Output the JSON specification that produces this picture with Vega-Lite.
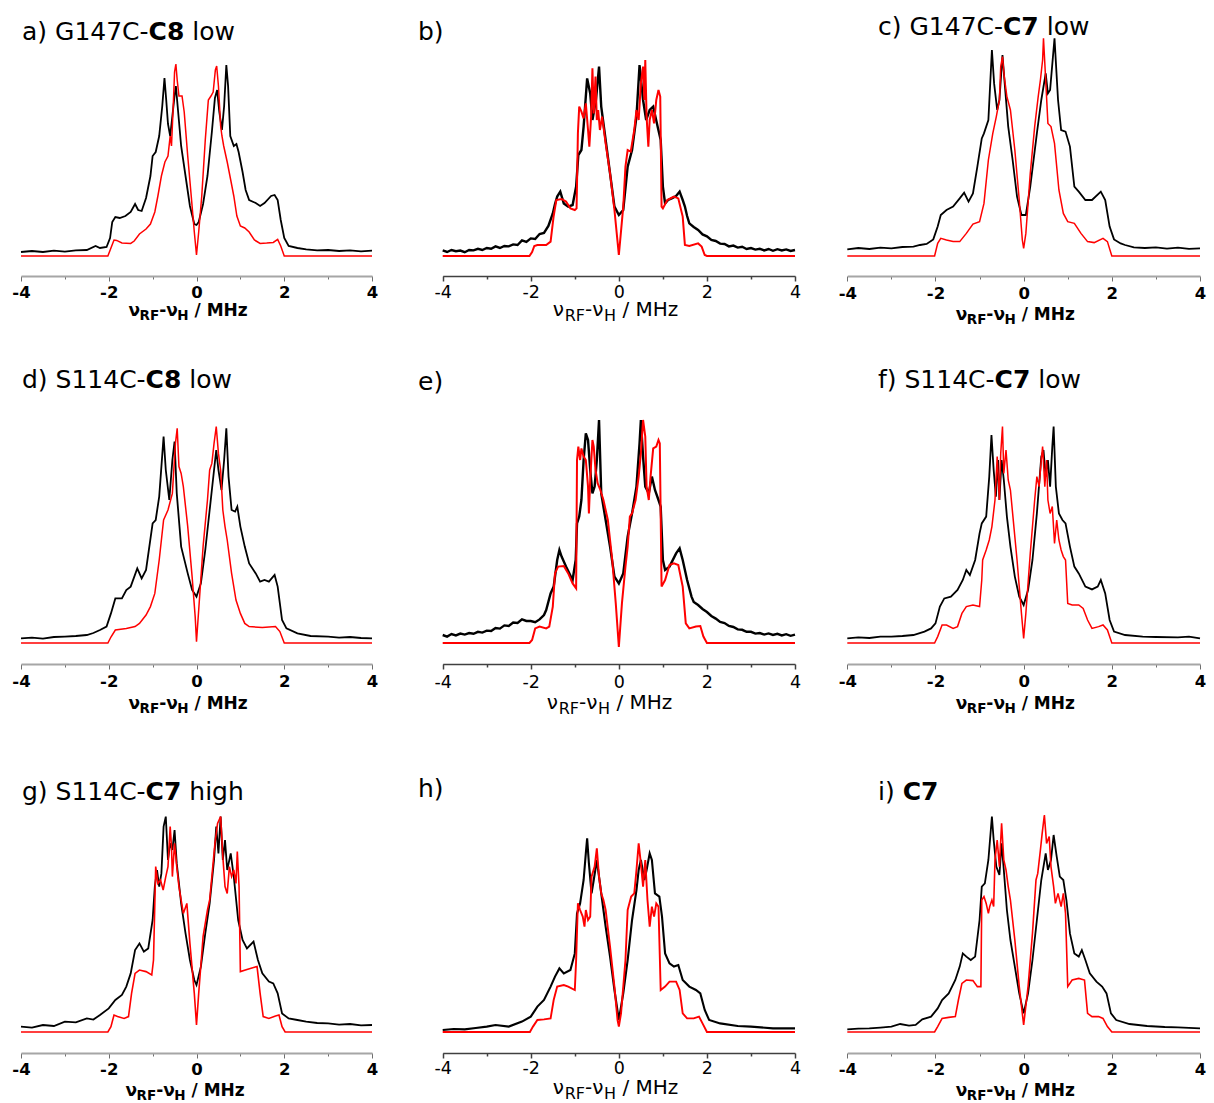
{
  "$schema": "https://vega.github.io/schema/vega-lite/v6.json",
  "padding": 0,
  "background": "#ffffff",
  "config": {
    "view": {"stroke": null},
    "style": {
      "ttl": {"font": "DejaVu Sans", "fontSize": 25, "align": "left", "baseline": "alphabetic", "fill": "#000000"},
      "ttlb": {"font": "DejaVu Sans", "fontSize": 25, "fontWeight": "bold", "align": "left", "baseline": "alphabetic", "fill": "#000000"},
      "xm": {"font": "DejaVu Sans", "fontSize": 17, "fontWeight": "bold", "align": "left", "baseline": "alphabetic", "fill": "#000000"},
      "xs": {"font": "DejaVu Sans", "fontSize": 13.5, "fontWeight": "bold", "align": "left", "baseline": "alphabetic", "fill": "#000000", "dy": 4},
      "rm": {"font": "DejaVu Sans", "fontSize": 20, "align": "left", "baseline": "alphabetic", "fill": "#000000"},
      "rs": {"font": "DejaVu Sans", "fontSize": 16, "align": "left", "baseline": "alphabetic", "fill": "#000000", "dy": 5}
    }
  },
  "datasets": {
    "a_exp": [{"x":-4,"y":0.02},{"x":-3.75,"y":0.025},{"x":-3.5,"y":0.02},{"x":-3.25,"y":0.027},{"x":-3,"y":0.022},{"x":-2.75,"y":0.028},{"x":-2.5,"y":0.03},{"x":-2.3,"y":0.05},{"x":-2.2,"y":0.04},{"x":-2.05,"y":0.045},{"x":-1.97,"y":0.09},{"x":-1.92,"y":0.17},{"x":-1.85,"y":0.195},{"x":-1.75,"y":0.19},{"x":-1.62,"y":0.2},{"x":-1.5,"y":0.22},{"x":-1.4,"y":0.26},{"x":-1.33,"y":0.23},{"x":-1.25,"y":0.225},{"x":-1.15,"y":0.29},{"x":-1.05,"y":0.4},{"x":-1.0,"y":0.5},{"x":-0.93,"y":0.52},{"x":-0.85,"y":0.6},{"x":-0.78,"y":0.75},{"x":-0.73,"y":0.89},{"x":-0.69,"y":0.78},{"x":-0.65,"y":0.66},{"x":-0.6,"y":0.6},{"x":-0.55,"y":0.7},{"x":-0.5,"y":0.8},{"x":-0.47,"y":0.85},{"x":-0.43,"y":0.75},{"x":-0.35,"y":0.55},{"x":-0.25,"y":0.4},{"x":-0.15,"y":0.25},{"x":-0.05,"y":0.16},{"x":0,"y":0.155},{"x":0.05,"y":0.17},{"x":0.15,"y":0.26},{"x":0.25,"y":0.4},{"x":0.35,"y":0.62},{"x":0.42,"y":0.79},{"x":0.47,"y":0.83},{"x":0.52,"y":0.72},{"x":0.58,"y":0.63},{"x":0.63,"y":0.75},{"x":0.68,"y":0.955},{"x":0.72,"y":0.85},{"x":0.77,"y":0.6},{"x":0.85,"y":0.55},{"x":0.91,"y":0.56},{"x":0.96,"y":0.52},{"x":1.05,"y":0.42},{"x":1.12,"y":0.33},{"x":1.2,"y":0.28},{"x":1.35,"y":0.265},{"x":1.45,"y":0.25},{"x":1.55,"y":0.265},{"x":1.7,"y":0.3},{"x":1.78,"y":0.305},{"x":1.85,"y":0.28},{"x":1.92,"y":0.18},{"x":2.0,"y":0.09},{"x":2.1,"y":0.05},{"x":2.3,"y":0.04},{"x":2.5,"y":0.033},{"x":2.75,"y":0.028},{"x":3,"y":0.03},{"x":3.25,"y":0.025},{"x":3.5,"y":0.028},{"x":3.75,"y":0.023},{"x":4,"y":0.027}],
    "a_sim": [{"x":-4,"y":0},{"x":-2.02,"y":0},{"x":-1.95,"y":0.04},{"x":-1.88,"y":0.08},{"x":-1.82,"y":0.078},{"x":-1.7,"y":0.065},{"x":-1.5,"y":0.063},{"x":-1.42,"y":0.075},{"x":-1.3,"y":0.11},{"x":-1.15,"y":0.135},{"x":-1.05,"y":0.16},{"x":-0.95,"y":0.22},{"x":-0.88,"y":0.3},{"x":-0.8,"y":0.4},{"x":-0.72,"y":0.47},{"x":-0.65,"y":0.5},{"x":-0.6,"y":0.6},{"x":-0.57,"y":0.55},{"x":-0.53,"y":0.75},{"x":-0.5,"y":0.92},{"x":-0.47,"y":0.96},{"x":-0.44,"y":0.88},{"x":-0.4,"y":0.8},{"x":-0.33,"y":0.8},{"x":-0.28,"y":0.72},{"x":-0.2,"y":0.5},{"x":-0.12,"y":0.3},{"x":-0.05,"y":0.12},{"x":0,"y":0.005},{"x":0.05,"y":0.12},{"x":0.12,"y":0.3},{"x":0.2,"y":0.58},{"x":0.27,"y":0.78},{"x":0.33,"y":0.8},{"x":0.38,"y":0.82},{"x":0.43,"y":0.93},{"x":0.46,"y":0.95},{"x":0.5,"y":0.85},{"x":0.55,"y":0.65},{"x":0.58,"y":0.6},{"x":0.62,"y":0.55},{"x":0.7,"y":0.47},{"x":0.78,"y":0.38},{"x":0.85,"y":0.3},{"x":0.92,"y":0.2},{"x":1.0,"y":0.15},{"x":1.1,"y":0.14},{"x":1.2,"y":0.12},{"x":1.32,"y":0.08},{"x":1.45,"y":0.063},{"x":1.6,"y":0.065},{"x":1.75,"y":0.068},{"x":1.85,"y":0.083},{"x":1.92,"y":0.05},{"x":2.0,"y":0},{"x":4,"y":0}],
    "b_exp": [{"x":-4,"y":0.028},{"x":-3.9,"y":0.02},{"x":-3.8,"y":0.03},{"x":-3.7,"y":0.024},{"x":-3.6,"y":0.027},{"x":-3.5,"y":0.019},{"x":-3.4,"y":0.03},{"x":-3.3,"y":0.028},{"x":-3.2,"y":0.036},{"x":-3.1,"y":0.03},{"x":-3.0,"y":0.04},{"x":-2.9,"y":0.036},{"x":-2.8,"y":0.048},{"x":-2.7,"y":0.04},{"x":-2.6,"y":0.05},{"x":-2.5,"y":0.048},{"x":-2.4,"y":0.058},{"x":-2.3,"y":0.055},{"x":-2.2,"y":0.078},{"x":-2.1,"y":0.07},{"x":-2.0,"y":0.088},{"x":-1.9,"y":0.085},{"x":-1.8,"y":0.11},{"x":-1.7,"y":0.115},{"x":-1.6,"y":0.15},{"x":-1.5,"y":0.213},{"x":-1.45,"y":0.26},{"x":-1.4,"y":0.297},{"x":-1.33,"y":0.322},{"x":-1.25,"y":0.263},{"x":-1.15,"y":0.247},{"x":-1.05,"y":0.255},{"x":-0.97,"y":0.347},{"x":-0.92,"y":0.505},{"x":-0.85,"y":0.53},{"x":-0.8,"y":0.647},{"x":-0.72,"y":0.888},{"x":-0.65,"y":0.813},{"x":-0.6,"y":0.68},{"x":-0.52,"y":0.78},{"x":-0.45,"y":0.947},{"x":-0.4,"y":0.747},{"x":-0.3,"y":0.58},{"x":-0.2,"y":0.413},{"x":-0.1,"y":0.247},{"x":0,"y":0.205},{"x":0.1,"y":0.23},{"x":0.2,"y":0.447},{"x":0.3,"y":0.53},{"x":0.4,"y":0.697},{"x":0.47,"y":0.955},{"x":0.55,"y":0.78},{"x":0.62,"y":0.68},{"x":0.7,"y":0.73},{"x":0.78,"y":0.747},{"x":0.88,"y":0.647},{"x":0.95,"y":0.58},{"x":1.0,"y":0.347},{"x":1.05,"y":0.263},{"x":1.12,"y":0.28},{"x":1.2,"y":0.288},{"x":1.3,"y":0.3},{"x":1.38,"y":0.322},{"x":1.45,"y":0.28},{"x":1.5,"y":0.247},{"x":1.55,"y":0.2},{"x":1.6,"y":0.163},{"x":1.7,"y":0.145},{"x":1.8,"y":0.13},{"x":1.9,"y":0.108},{"x":2.0,"y":0.098},{"x":2.1,"y":0.08},{"x":2.2,"y":0.075},{"x":2.3,"y":0.062},{"x":2.4,"y":0.06},{"x":2.5,"y":0.048},{"x":2.6,"y":0.052},{"x":2.7,"y":0.042},{"x":2.8,"y":0.046},{"x":2.9,"y":0.035},{"x":3.0,"y":0.04},{"x":3.1,"y":0.032},{"x":3.2,"y":0.036},{"x":3.3,"y":0.028},{"x":3.4,"y":0.035},{"x":3.5,"y":0.026},{"x":3.6,"y":0.034},{"x":3.7,"y":0.028},{"x":3.8,"y":0.033},{"x":3.9,"y":0.025},{"x":4.0,"y":0.03}],
    "b_sim": [{"x":-4,"y":0},{"x":-2.03,"y":0},{"x":-1.97,"y":0.02},{"x":-1.92,"y":0.05},{"x":-1.85,"y":0.055},{"x":-1.65,"y":0.055},{"x":-1.55,"y":0.072},{"x":-1.48,"y":0.2},{"x":-1.42,"y":0.28},{"x":-1.3,"y":0.285},{"x":-1.2,"y":0.272},{"x":-1.1,"y":0.238},{"x":-1.0,"y":0.23},{"x":-0.96,"y":0.238},{"x":-0.93,"y":0.613},{"x":-0.9,"y":0.747},{"x":-0.85,"y":0.722},{"x":-0.8,"y":0.688},{"x":-0.75,"y":0.763},{"x":-0.7,"y":0.63},{"x":-0.67,"y":0.547},{"x":-0.63,"y":0.697},{"x":-0.6,"y":0.938},{"x":-0.57,"y":0.713},{"x":-0.53,"y":0.897},{"x":-0.5,"y":0.68},{"x":-0.47,"y":0.73},{"x":-0.43,"y":0.63},{"x":-0.38,"y":0.697},{"x":-0.3,"y":0.563},{"x":-0.2,"y":0.413},{"x":-0.1,"y":0.23},{"x":0,"y":0.005},{"x":0.1,"y":0.247},{"x":0.15,"y":0.447},{"x":0.2,"y":0.53},{"x":0.27,"y":0.522},{"x":0.35,"y":0.63},{"x":0.4,"y":0.73},{"x":0.45,"y":0.68},{"x":0.5,"y":0.863},{"x":0.55,"y":0.947},{"x":0.58,"y":0.78},{"x":0.6,"y":0.98},{"x":0.63,"y":0.697},{"x":0.67,"y":0.547},{"x":0.7,"y":0.68},{"x":0.75,"y":0.73},{"x":0.8,"y":0.663},{"x":0.85,"y":0.78},{"x":0.9,"y":0.83},{"x":0.94,"y":0.797},{"x":0.97,"y":0.247},{"x":1.0,"y":0.238},{"x":1.1,"y":0.28},{"x":1.25,"y":0.297},{"x":1.35,"y":0.288},{"x":1.45,"y":0.197},{"x":1.5,"y":0.055},{"x":1.6,"y":0.05},{"x":1.8,"y":0.063},{"x":1.88,"y":0.047},{"x":1.95,"y":0.005},{"x":2.0,"y":0},{"x":4,"y":0}],
    "c_exp": [{"x":-4,"y":0.033},{"x":-3.75,"y":0.04},{"x":-3.5,"y":0.035},{"x":-3.25,"y":0.042},{"x":-3,"y":0.038},{"x":-2.75,"y":0.045},{"x":-2.5,"y":0.047},{"x":-2.35,"y":0.055},{"x":-2.2,"y":0.06},{"x":-2.05,"y":0.083},{"x":-1.95,"y":0.147},{"x":-1.88,"y":0.205},{"x":-1.75,"y":0.23},{"x":-1.6,"y":0.247},{"x":-1.45,"y":0.288},{"x":-1.35,"y":0.317},{"x":-1.25,"y":0.272},{"x":-1.15,"y":0.313},{"x":-1.05,"y":0.447},{"x":-0.95,"y":0.588},{"x":-0.9,"y":0.613},{"x":-0.8,"y":0.68},{"x":-0.72,"y":1.03},{"x":-0.67,"y":0.863},{"x":-0.6,"y":0.73},{"x":-0.55,"y":0.78},{"x":-0.48,"y":1.005},{"x":-0.43,"y":0.863},{"x":-0.35,"y":0.647},{"x":-0.25,"y":0.48},{"x":-0.15,"y":0.297},{"x":-0.05,"y":0.205},{"x":0.05,"y":0.205},{"x":0.15,"y":0.347},{"x":0.3,"y":0.613},{"x":0.4,"y":0.78},{"x":0.5,"y":0.913},{"x":0.55,"y":0.813},{"x":0.6,"y":0.83},{"x":0.7,"y":1.088},{"x":0.78,"y":0.78},{"x":0.85,"y":0.63},{"x":0.95,"y":0.622},{"x":1.05,"y":0.547},{"x":1.15,"y":0.347},{"x":1.25,"y":0.322},{"x":1.4,"y":0.28},{"x":1.55,"y":0.28},{"x":1.75,"y":0.322},{"x":1.85,"y":0.28},{"x":1.95,"y":0.147},{"x":2.05,"y":0.083},{"x":2.2,"y":0.063},{"x":2.3,"y":0.055},{"x":2.5,"y":0.043},{"x":2.75,"y":0.04},{"x":3,"y":0.043},{"x":3.25,"y":0.037},{"x":3.5,"y":0.042},{"x":3.75,"y":0.036},{"x":4,"y":0.038}],
    "c_sim": [{"x":-4,"y":0},{"x":-2.02,"y":0},{"x":-1.95,"y":0.063},{"x":-1.88,"y":0.088},{"x":-1.75,"y":0.08},{"x":-1.6,"y":0.072},{"x":-1.45,"y":0.072},{"x":-1.3,"y":0.113},{"x":-1.15,"y":0.16},{"x":-1.0,"y":0.172},{"x":-0.9,"y":0.263},{"x":-0.8,"y":0.48},{"x":-0.7,"y":0.613},{"x":-0.62,"y":0.697},{"x":-0.55,"y":0.78},{"x":-0.52,"y":0.947},{"x":-0.48,"y":0.997},{"x":-0.44,"y":0.897},{"x":-0.38,"y":0.797},{"x":-0.3,"y":0.73},{"x":-0.2,"y":0.53},{"x":-0.1,"y":0.28},{"x":-0.03,"y":0.08},{"x":0,"y":0.038},{"x":0.05,"y":0.113},{"x":0.15,"y":0.413},{"x":0.25,"y":0.647},{"x":0.33,"y":0.797},{"x":0.38,"y":0.88},{"x":0.43,"y":0.98},{"x":0.45,"y":1.088},{"x":0.5,"y":0.88},{"x":0.55,"y":0.663},{"x":0.62,"y":0.647},{"x":0.7,"y":0.563},{"x":0.8,"y":0.33},{"x":0.9,"y":0.213},{"x":1.0,"y":0.172},{"x":1.15,"y":0.163},{"x":1.3,"y":0.113},{"x":1.45,"y":0.072},{"x":1.6,"y":0.067},{"x":1.8,"y":0.088},{"x":1.9,"y":0.072},{"x":2.0,"y":0},{"x":4,"y":0}],
    "d_exp": [{"x":-4,"y":0.023},{"x":-3.75,"y":0.027},{"x":-3.5,"y":0.022},{"x":-3.25,"y":0.03},{"x":-3,"y":0.032},{"x":-2.75,"y":0.035},{"x":-2.5,"y":0.04},{"x":-2.35,"y":0.05},{"x":-2.2,"y":0.065},{"x":-2.05,"y":0.082},{"x":-1.95,"y":0.148},{"x":-1.85,"y":0.223},{"x":-1.7,"y":0.223},{"x":-1.6,"y":0.265},{"x":-1.5,"y":0.282},{"x":-1.35,"y":0.373},{"x":-1.25,"y":0.323},{"x":-1.15,"y":0.365},{"x":-1.0,"y":0.598},{"x":-0.93,"y":0.615},{"x":-0.85,"y":0.732},{"x":-0.75,"y":1.032},{"x":-0.7,"y":0.865},{"x":-0.62,"y":0.715},{"x":-0.55,"y":0.915},{"x":-0.5,"y":1.007},{"x":-0.45,"y":0.748},{"x":-0.35,"y":0.482},{"x":-0.2,"y":0.348},{"x":-0.1,"y":0.265},{"x":0,"y":0.232},{"x":0.1,"y":0.298},{"x":0.2,"y":0.465},{"x":0.3,"y":0.665},{"x":0.4,"y":0.865},{"x":0.45,"y":0.965},{"x":0.5,"y":0.865},{"x":0.57,"y":0.765},{"x":0.63,"y":0.915},{"x":0.68,"y":1.073},{"x":0.73,"y":0.832},{"x":0.8,"y":0.665},{"x":0.88,"y":0.657},{"x":0.93,"y":0.682},{"x":1.0,"y":0.582},{"x":1.1,"y":0.482},{"x":1.2,"y":0.398},{"x":1.35,"y":0.348},{"x":1.45,"y":0.307},{"x":1.55,"y":0.315},{"x":1.65,"y":0.307},{"x":1.78,"y":0.34},{"x":1.85,"y":0.282},{"x":1.95,"y":0.115},{"x":2.05,"y":0.073},{"x":2.3,"y":0.048},{"x":2.6,"y":0.035},{"x":3,"y":0.032},{"x":3.25,"y":0.027},{"x":3.5,"y":0.03},{"x":3.75,"y":0.025},{"x":4,"y":0.023}],
    "d_sim": [{"x":-4,"y":0},{"x":-2.02,"y":0},{"x":-1.95,"y":0.03},{"x":-1.85,"y":0.065},{"x":-1.6,"y":0.073},{"x":-1.4,"y":0.082},{"x":-1.3,"y":0.098},{"x":-1.15,"y":0.14},{"x":-1.05,"y":0.182},{"x":-0.95,"y":0.248},{"x":-0.85,"y":0.415},{"x":-0.75,"y":0.615},{"x":-0.65,"y":0.665},{"x":-0.55,"y":0.748},{"x":-0.48,"y":0.998},{"x":-0.44,"y":1.073},{"x":-0.4,"y":0.882},{"x":-0.35,"y":0.848},{"x":-0.3,"y":0.782},{"x":-0.2,"y":0.582},{"x":-0.1,"y":0.332},{"x":-0.03,"y":0.132},{"x":0,"y":0.007},{"x":0.05,"y":0.165},{"x":0.15,"y":0.482},{"x":0.25,"y":0.715},{"x":0.3,"y":0.865},{"x":0.35,"y":0.898},{"x":0.4,"y":0.998},{"x":0.45,"y":1.082},{"x":0.5,"y":0.948},{"x":0.55,"y":0.865},{"x":0.6,"y":0.665},{"x":0.65,"y":0.582},{"x":0.7,"y":0.515},{"x":0.8,"y":0.348},{"x":0.9,"y":0.215},{"x":1.0,"y":0.148},{"x":1.1,"y":0.098},{"x":1.2,"y":0.082},{"x":1.5,"y":0.078},{"x":1.8,"y":0.082},{"x":1.9,"y":0.057},{"x":2.0,"y":0},{"x":4,"y":0}],
    "e_exp": [{"x":-4,"y":0.04},{"x":-3.9,"y":0.032},{"x":-3.8,"y":0.045},{"x":-3.7,"y":0.038},{"x":-3.6,"y":0.047},{"x":-3.5,"y":0.042},{"x":-3.4,"y":0.05},{"x":-3.3,"y":0.046},{"x":-3.2,"y":0.056},{"x":-3.1,"y":0.052},{"x":-3.0,"y":0.062},{"x":-2.9,"y":0.06},{"x":-2.8,"y":0.075},{"x":-2.7,"y":0.072},{"x":-2.6,"y":0.088},{"x":-2.5,"y":0.085},{"x":-2.4,"y":0.102},{"x":-2.3,"y":0.1},{"x":-2.2,"y":0.118},{"x":-2.1,"y":0.11},{"x":-2.0,"y":0.11},{"x":-1.9,"y":0.104},{"x":-1.8,"y":0.118},{"x":-1.7,"y":0.14},{"x":-1.65,"y":0.165},{"x":-1.55,"y":0.248},{"x":-1.48,"y":0.282},{"x":-1.4,"y":0.415},{"x":-1.35,"y":0.465},{"x":-1.3,"y":0.432},{"x":-1.2,"y":0.382},{"x":-1.05,"y":0.315},{"x":-0.98,"y":0.415},{"x":-0.95,"y":0.598},{"x":-0.9,"y":0.632},{"x":-0.85,"y":0.715},{"x":-0.8,"y":0.915},{"x":-0.75,"y":1.048},{"x":-0.7,"y":1.015},{"x":-0.65,"y":0.865},{"x":-0.6,"y":0.748},{"x":-0.55,"y":0.782},{"x":-0.5,"y":0.915},{"x":-0.45,"y":1.115},{"x":-0.4,"y":0.748},{"x":-0.3,"y":0.615},{"x":-0.2,"y":0.482},{"x":-0.1,"y":0.332},{"x":0,"y":0.298},{"x":0.1,"y":0.348},{"x":0.2,"y":0.532},{"x":0.3,"y":0.648},{"x":0.4,"y":0.782},{"x":0.47,"y":0.998},{"x":0.5,"y":1.115},{"x":0.55,"y":0.932},{"x":0.6,"y":0.782},{"x":0.68,"y":0.748},{"x":0.75,"y":0.832},{"x":0.82,"y":0.765},{"x":0.9,"y":0.715},{"x":0.95,"y":0.682},{"x":1.0,"y":0.415},{"x":1.05,"y":0.365},{"x":1.15,"y":0.382},{"x":1.3,"y":0.448},{"x":1.38,"y":0.473},{"x":1.45,"y":0.415},{"x":1.55,"y":0.315},{"x":1.65,"y":0.232},{"x":1.7,"y":0.205},{"x":1.8,"y":0.19},{"x":1.9,"y":0.17},{"x":2.0,"y":0.155},{"x":2.1,"y":0.135},{"x":2.2,"y":0.122},{"x":2.3,"y":0.105},{"x":2.4,"y":0.1},{"x":2.5,"y":0.085},{"x":2.6,"y":0.08},{"x":2.7,"y":0.068},{"x":2.8,"y":0.066},{"x":2.9,"y":0.056},{"x":3.0,"y":0.056},{"x":3.1,"y":0.047},{"x":3.2,"y":0.05},{"x":3.3,"y":0.042},{"x":3.4,"y":0.048},{"x":3.5,"y":0.04},{"x":3.6,"y":0.046},{"x":3.7,"y":0.038},{"x":3.8,"y":0.044},{"x":3.9,"y":0.036},{"x":4.0,"y":0.042}],
    "e_sim": [{"x":-4,"y":0},{"x":-2.03,"y":0},{"x":-1.97,"y":0.015},{"x":-1.9,"y":0.073},{"x":-1.8,"y":0.082},{"x":-1.65,"y":0.073},{"x":-1.58,"y":0.082},{"x":-1.5,"y":0.182},{"x":-1.45,"y":0.348},{"x":-1.38,"y":0.382},{"x":-1.25,"y":0.385},{"x":-1.15,"y":0.348},{"x":-1.05,"y":0.298},{"x":-0.97,"y":0.273},{"x":-0.95,"y":0.915},{"x":-0.92,"y":0.982},{"x":-0.88,"y":0.915},{"x":-0.85,"y":0.973},{"x":-0.8,"y":0.932},{"x":-0.75,"y":0.915},{"x":-0.7,"y":0.782},{"x":-0.68,"y":0.648},{"x":-0.65,"y":0.815},{"x":-0.6,"y":1.015},{"x":-0.57,"y":0.982},{"x":-0.53,"y":0.865},{"x":-0.48,"y":0.798},{"x":-0.42,"y":0.765},{"x":-0.35,"y":0.715},{"x":-0.25,"y":0.615},{"x":-0.15,"y":0.415},{"x":-0.07,"y":0.198},{"x":0,"y":-0.02},{"x":0.07,"y":0.198},{"x":0.15,"y":0.382},{"x":0.2,"y":0.482},{"x":0.25,"y":0.632},{"x":0.3,"y":0.648},{"x":0.38,"y":0.715},{"x":0.45,"y":0.832},{"x":0.5,"y":0.948},{"x":0.55,"y":1.115},{"x":0.6,"y":1.032},{"x":0.63,"y":0.782},{"x":0.68,"y":0.715},{"x":0.72,"y":0.832},{"x":0.78,"y":0.973},{"x":0.85,"y":0.982},{"x":0.9,"y":1.015},{"x":0.93,"y":0.998},{"x":0.97,"y":0.282},{"x":1.05,"y":0.315},{"x":1.15,"y":0.39},{"x":1.25,"y":0.398},{"x":1.35,"y":0.39},{"x":1.45,"y":0.282},{"x":1.52,"y":0.098},{"x":1.6,"y":0.073},{"x":1.75,"y":0.082},{"x":1.85,"y":0.085},{"x":1.92,"y":0.032},{"x":2.0,"y":0},{"x":4,"y":0}],
    "f_exp": [{"x":-4,"y":0.023},{"x":-3.75,"y":0.028},{"x":-3.5,"y":0.025},{"x":-3.25,"y":0.032},{"x":-3,"y":0.032},{"x":-2.75,"y":0.035},{"x":-2.5,"y":0.04},{"x":-2.25,"y":0.057},{"x":-2.1,"y":0.073},{"x":-2.0,"y":0.098},{"x":-1.9,"y":0.182},{"x":-1.8,"y":0.223},{"x":-1.65,"y":0.232},{"x":-1.5,"y":0.265},{"x":-1.38,"y":0.315},{"x":-1.3,"y":0.365},{"x":-1.22,"y":0.34},{"x":-1.1,"y":0.415},{"x":-1.0,"y":0.548},{"x":-0.95,"y":0.598},{"x":-0.85,"y":0.632},{"x":-0.78,"y":0.832},{"x":-0.73,"y":1.04},{"x":-0.68,"y":0.865},{"x":-0.63,"y":0.732},{"x":-0.58,"y":0.915},{"x":-0.55,"y":0.715},{"x":-0.5,"y":0.915},{"x":-0.45,"y":0.815},{"x":-0.38,"y":0.632},{"x":-0.3,"y":0.482},{"x":-0.2,"y":0.332},{"x":-0.1,"y":0.232},{"x":0,"y":0.19},{"x":0.1,"y":0.265},{"x":0.2,"y":0.415},{"x":0.3,"y":0.648},{"x":0.4,"y":0.932},{"x":0.45,"y":0.965},{"x":0.5,"y":0.832},{"x":0.55,"y":0.915},{"x":0.6,"y":0.782},{"x":0.65,"y":0.982},{"x":0.68,"y":1.082},{"x":0.73,"y":0.782},{"x":0.8,"y":0.648},{"x":0.88,"y":0.615},{"x":0.95,"y":0.598},{"x":1.05,"y":0.482},{"x":1.15,"y":0.382},{"x":1.25,"y":0.348},{"x":1.4,"y":0.282},{"x":1.55,"y":0.268},{"x":1.68,"y":0.282},{"x":1.75,"y":0.315},{"x":1.85,"y":0.248},{"x":1.95,"y":0.115},{"x":2.05,"y":0.057},{"x":2.3,"y":0.04},{"x":2.7,"y":0.032},{"x":3,"y":0.03},{"x":3.5,"y":0.028},{"x":3.75,"y":0.032},{"x":4,"y":0.023}],
    "f_sim": [{"x":-4,"y":0},{"x":-2.02,"y":0},{"x":-1.95,"y":0.032},{"x":-1.85,"y":0.09},{"x":-1.75,"y":0.09},{"x":-1.6,"y":0.073},{"x":-1.5,"y":0.082},{"x":-1.4,"y":0.148},{"x":-1.3,"y":0.182},{"x":-1.15,"y":0.19},{"x":-1.0,"y":0.182},{"x":-0.95,"y":0.315},{"x":-0.93,"y":0.415},{"x":-0.85,"y":0.465},{"x":-0.78,"y":0.515},{"x":-0.72,"y":0.582},{"x":-0.65,"y":0.715},{"x":-0.6,"y":0.932},{"x":-0.55,"y":0.715},{"x":-0.52,"y":0.948},{"x":-0.48,"y":1.082},{"x":-0.45,"y":0.848},{"x":-0.4,"y":0.965},{"x":-0.35,"y":0.815},{"x":-0.3,"y":0.765},{"x":-0.25,"y":0.648},{"x":-0.15,"y":0.415},{"x":-0.05,"y":0.148},{"x":0,"y":0.023},{"x":0.05,"y":0.148},{"x":0.15,"y":0.448},{"x":0.25,"y":0.715},{"x":0.3,"y":0.832},{"x":0.35,"y":0.782},{"x":0.4,"y":0.915},{"x":0.43,"y":0.982},{"x":0.48,"y":0.782},{"x":0.52,"y":0.915},{"x":0.55,"y":0.715},{"x":0.6,"y":0.648},{"x":0.65,"y":0.682},{"x":0.7,"y":0.498},{"x":0.75,"y":0.615},{"x":0.8,"y":0.515},{"x":0.85,"y":0.465},{"x":0.9,"y":0.432},{"x":0.95,"y":0.415},{"x":1.0,"y":0.198},{"x":1.1,"y":0.19},{"x":1.25,"y":0.19},{"x":1.35,"y":0.173},{"x":1.45,"y":0.115},{"x":1.55,"y":0.073},{"x":1.7,"y":0.082},{"x":1.8,"y":0.09},{"x":1.9,"y":0.065},{"x":2.0,"y":0},{"x":4,"y":0}],
    "g_exp": [{"x":-4,"y":0.027},{"x":-3.75,"y":0.022},{"x":-3.5,"y":0.035},{"x":-3.25,"y":0.03},{"x":-3,"y":0.052},{"x":-2.75,"y":0.048},{"x":-2.5,"y":0.068},{"x":-2.35,"y":0.062},{"x":-2.2,"y":0.085},{"x":-2.0,"y":0.118},{"x":-1.85,"y":0.16},{"x":-1.7,"y":0.185},{"x":-1.6,"y":0.227},{"x":-1.5,"y":0.293},{"x":-1.4,"y":0.41},{"x":-1.3,"y":0.443},{"x":-1.2,"y":0.402},{"x":-1.1,"y":0.418},{"x":-1.0,"y":0.56},{"x":-0.95,"y":0.727},{"x":-0.9,"y":0.81},{"x":-0.85,"y":0.727},{"x":-0.8,"y":0.793},{"x":-0.75,"y":1.027},{"x":-0.7,"y":1.077},{"x":-0.65,"y":0.86},{"x":-0.6,"y":0.943},{"x":-0.55,"y":0.91},{"x":-0.5,"y":1.01},{"x":-0.45,"y":0.843},{"x":-0.35,"y":0.643},{"x":-0.25,"y":0.493},{"x":-0.15,"y":0.36},{"x":-0.05,"y":0.26},{"x":0,"y":0.235},{"x":0.1,"y":0.327},{"x":0.2,"y":0.493},{"x":0.3,"y":0.643},{"x":0.4,"y":0.86},{"x":0.45,"y":1.027},{"x":0.5,"y":0.893},{"x":0.55,"y":1.077},{"x":0.6,"y":0.86},{"x":0.65,"y":0.96},{"x":0.7,"y":0.81},{"x":0.78,"y":0.893},{"x":0.85,"y":0.777},{"x":0.95,"y":0.56},{"x":1.05,"y":0.46},{"x":1.15,"y":0.418},{"x":1.3,"y":0.452},{"x":1.4,"y":0.36},{"x":1.5,"y":0.293},{"x":1.65,"y":0.252},{"x":1.75,"y":0.243},{"x":1.85,"y":0.193},{"x":1.95,"y":0.093},{"x":2.1,"y":0.068},{"x":2.3,"y":0.06},{"x":2.5,"y":0.052},{"x":2.75,"y":0.045},{"x":3,"y":0.043},{"x":3.25,"y":0.037},{"x":3.5,"y":0.04},{"x":3.75,"y":0.033},{"x":4,"y":0.035}],
    "g_sim": [{"x":-4,"y":0},{"x":-2.02,"y":0},{"x":-1.95,"y":0.027},{"x":-1.88,"y":0.085},{"x":-1.8,"y":0.077},{"x":-1.65,"y":0.068},{"x":-1.55,"y":0.077},{"x":-1.48,"y":0.193},{"x":-1.4,"y":0.293},{"x":-1.3,"y":0.31},{"x":-1.15,"y":0.302},{"x":-1.02,"y":0.285},{"x":-0.98,"y":0.36},{"x":-0.93,"y":0.827},{"x":-0.88,"y":0.743},{"x":-0.82,"y":0.76},{"x":-0.76,"y":0.71},{"x":-0.7,"y":0.777},{"x":-0.65,"y":0.827},{"x":-0.6,"y":1.027},{"x":-0.57,"y":0.927},{"x":-0.55,"y":0.777},{"x":-0.5,"y":0.943},{"x":-0.45,"y":0.827},{"x":-0.4,"y":0.727},{"x":-0.3,"y":0.593},{"x":-0.22,"y":0.643},{"x":-0.15,"y":0.443},{"x":-0.05,"y":0.193},{"x":0,"y":0.035},{"x":0.05,"y":0.193},{"x":0.15,"y":0.477},{"x":0.25,"y":0.61},{"x":0.3,"y":0.66},{"x":0.35,"y":0.777},{"x":0.42,"y":0.943},{"x":0.48,"y":1.043},{"x":0.55,"y":1.077},{"x":0.6,"y":0.877},{"x":0.65,"y":0.727},{"x":0.7,"y":0.693},{"x":0.75,"y":0.827},{"x":0.8,"y":0.777},{"x":0.85,"y":0.81},{"x":0.9,"y":0.743},{"x":0.93,"y":0.902},{"x":0.97,"y":0.727},{"x":1.0,"y":0.302},{"x":1.15,"y":0.313},{"x":1.3,"y":0.323},{"x":1.38,"y":0.327},{"x":1.45,"y":0.193},{"x":1.52,"y":0.077},{"x":1.65,"y":0.068},{"x":1.8,"y":0.08},{"x":1.88,"y":0.085},{"x":1.95,"y":0.027},{"x":2.02,"y":0},{"x":4,"y":0}],
    "h_exp": [{"x":-4,"y":0.01},{"x":-3.75,"y":0.015},{"x":-3.5,"y":0.013},{"x":-3.25,"y":0.02},{"x":-3,"y":0.027},{"x":-2.8,"y":0.035},{"x":-2.5,"y":0.027},{"x":-2.2,"y":0.052},{"x":-2.0,"y":0.077},{"x":-1.85,"y":0.127},{"x":-1.7,"y":0.16},{"x":-1.55,"y":0.227},{"x":-1.45,"y":0.277},{"x":-1.35,"y":0.318},{"x":-1.25,"y":0.293},{"x":-1.1,"y":0.31},{"x":-1.0,"y":0.393},{"x":-0.95,"y":0.593},{"x":-0.88,"y":0.643},{"x":-0.8,"y":0.76},{"x":-0.75,"y":0.893},{"x":-0.72,"y":0.968},{"x":-0.68,"y":0.843},{"x":-0.62,"y":0.693},{"x":-0.57,"y":0.76},{"x":-0.5,"y":0.86},{"x":-0.45,"y":0.777},{"x":-0.38,"y":0.66},{"x":-0.3,"y":0.527},{"x":-0.2,"y":0.377},{"x":-0.1,"y":0.21},{"x":0,"y":0.06},{"x":0.1,"y":0.193},{"x":0.2,"y":0.36},{"x":0.3,"y":0.56},{"x":0.4,"y":0.71},{"x":0.45,"y":0.81},{"x":0.5,"y":0.86},{"x":0.58,"y":0.76},{"x":0.63,"y":0.81},{"x":0.7,"y":0.893},{"x":0.75,"y":0.86},{"x":0.82,"y":0.693},{"x":0.92,"y":0.677},{"x":0.98,"y":0.577},{"x":1.05,"y":0.393},{"x":1.15,"y":0.343},{"x":1.25,"y":0.327},{"x":1.35,"y":0.335},{"x":1.45,"y":0.26},{"x":1.6,"y":0.227},{"x":1.75,"y":0.21},{"x":1.85,"y":0.193},{"x":1.95,"y":0.11},{"x":2.05,"y":0.06},{"x":2.3,"y":0.043},{"x":2.7,"y":0.03},{"x":3,"y":0.027},{"x":3.5,"y":0.018},{"x":4,"y":0.018}],
    "h_sim": [{"x":-4,"y":0},{"x":-2.02,"y":0},{"x":-1.95,"y":0.027},{"x":-1.85,"y":0.06},{"x":-1.7,"y":0.063},{"x":-1.55,"y":0.068},{"x":-1.48,"y":0.16},{"x":-1.4,"y":0.227},{"x":-1.25,"y":0.235},{"x":-1.15,"y":0.227},{"x":-1.0,"y":0.21},{"x":-0.97,"y":0.36},{"x":-0.93,"y":0.643},{"x":-0.88,"y":0.61},{"x":-0.82,"y":0.577},{"x":-0.78,"y":0.527},{"x":-0.75,"y":0.61},{"x":-0.7,"y":0.56},{"x":-0.65,"y":0.577},{"x":-0.62,"y":0.777},{"x":-0.55,"y":0.827},{"x":-0.5,"y":0.918},{"x":-0.45,"y":0.777},{"x":-0.4,"y":0.693},{"x":-0.35,"y":0.66},{"x":-0.3,"y":0.61},{"x":-0.2,"y":0.427},{"x":-0.1,"y":0.227},{"x":-0.03,"y":0.06},{"x":0,"y":0.027},{"x":0.05,"y":0.093},{"x":0.15,"y":0.36},{"x":0.2,"y":0.61},{"x":0.28,"y":0.677},{"x":0.35,"y":0.693},{"x":0.4,"y":0.81},{"x":0.45,"y":0.943},{"x":0.5,"y":0.843},{"x":0.55,"y":0.727},{"x":0.6,"y":0.86},{"x":0.65,"y":0.66},{"x":0.7,"y":0.527},{"x":0.75,"y":0.627},{"x":0.8,"y":0.577},{"x":0.85,"y":0.643},{"x":0.9,"y":0.627},{"x":0.95,"y":0.21},{"x":1.05,"y":0.227},{"x":1.15,"y":0.252},{"x":1.3,"y":0.252},{"x":1.38,"y":0.21},{"x":1.45,"y":0.093},{"x":1.55,"y":0.068},{"x":1.7,"y":0.068},{"x":1.82,"y":0.077},{"x":1.9,"y":0.043},{"x":2.0,"y":0},{"x":4,"y":0}],
    "i_exp": [{"x":-4,"y":0.013},{"x":-3.75,"y":0.017},{"x":-3.5,"y":0.018},{"x":-3.25,"y":0.022},{"x":-3,"y":0.027},{"x":-2.8,"y":0.04},{"x":-2.6,"y":0.032},{"x":-2.45,"y":0.035},{"x":-2.3,"y":0.063},{"x":-2.1,"y":0.077},{"x":-1.95,"y":0.118},{"x":-1.85,"y":0.16},{"x":-1.7,"y":0.193},{"x":-1.55,"y":0.26},{"x":-1.45,"y":0.327},{"x":-1.38,"y":0.393},{"x":-1.3,"y":0.377},{"x":-1.2,"y":0.36},{"x":-1.1,"y":0.377},{"x":-1.0,"y":0.56},{"x":-0.95,"y":0.727},{"x":-0.88,"y":0.743},{"x":-0.8,"y":0.86},{"x":-0.72,"y":1.077},{"x":-0.68,"y":0.96},{"x":-0.62,"y":0.827},{"x":-0.55,"y":0.785},{"x":-0.5,"y":0.943},{"x":-0.45,"y":0.81},{"x":-0.38,"y":0.61},{"x":-0.3,"y":0.46},{"x":-0.2,"y":0.327},{"x":-0.1,"y":0.193},{"x":0,"y":0.093},{"x":0.1,"y":0.193},{"x":0.2,"y":0.36},{"x":0.3,"y":0.56},{"x":0.4,"y":0.76},{"x":0.5,"y":0.893},{"x":0.55,"y":0.81},{"x":0.62,"y":0.86},{"x":0.68,"y":0.985},{"x":0.75,"y":0.877},{"x":0.82,"y":0.777},{"x":0.9,"y":0.76},{"x":0.97,"y":0.66},{"x":1.05,"y":0.493},{"x":1.15,"y":0.393},{"x":1.25,"y":0.377},{"x":1.32,"y":0.41},{"x":1.4,"y":0.36},{"x":1.5,"y":0.293},{"x":1.65,"y":0.252},{"x":1.78,"y":0.227},{"x":1.88,"y":0.193},{"x":1.98,"y":0.093},{"x":2.1,"y":0.06},{"x":2.4,"y":0.04},{"x":2.8,"y":0.03},{"x":3.2,"y":0.025},{"x":3.5,"y":0.023},{"x":4,"y":0.018}],
    "i_sim": [{"x":-4,"y":0},{"x":-2.02,"y":0},{"x":-1.95,"y":0.027},{"x":-1.85,"y":0.068},{"x":-1.7,"y":0.073},{"x":-1.55,"y":0.077},{"x":-1.48,"y":0.16},{"x":-1.4,"y":0.243},{"x":-1.3,"y":0.26},{"x":-1.15,"y":0.257},{"x":-1.05,"y":0.227},{"x":-0.97,"y":0.227},{"x":-0.95,"y":0.66},{"x":-0.9,"y":0.677},{"x":-0.85,"y":0.643},{"x":-0.8,"y":0.593},{"x":-0.77,"y":0.627},{"x":-0.72,"y":0.66},{"x":-0.68,"y":0.627},{"x":-0.65,"y":0.86},{"x":-0.6,"y":0.96},{"x":-0.55,"y":0.827},{"x":-0.5,"y":1.043},{"x":-0.45,"y":0.86},{"x":-0.4,"y":0.81},{"x":-0.35,"y":0.727},{"x":-0.3,"y":0.66},{"x":-0.2,"y":0.46},{"x":-0.1,"y":0.227},{"x":0,"y":0.035},{"x":0.1,"y":0.227},{"x":0.2,"y":0.493},{"x":0.28,"y":0.76},{"x":0.32,"y":0.793},{"x":0.38,"y":0.91},{"x":0.42,"y":0.993},{"x":0.47,"y":1.085},{"x":0.52,"y":0.943},{"x":0.58,"y":0.977},{"x":0.62,"y":0.827},{"x":0.68,"y":0.727},{"x":0.72,"y":0.643},{"x":0.78,"y":0.693},{"x":0.85,"y":0.627},{"x":0.9,"y":0.693},{"x":0.95,"y":0.593},{"x":1.0,"y":0.227},{"x":1.1,"y":0.26},{"x":1.25,"y":0.268},{"x":1.38,"y":0.26},{"x":1.45,"y":0.093},{"x":1.55,"y":0.077},{"x":1.7,"y":0.077},{"x":1.8,"y":0.068},{"x":1.9,"y":0.027},{"x":2.0,"y":0},{"x":4,"y":0}]
  },
  "columns": 3,
  "spacing": 0,
  "bounds": "flush",
  "concat": [
    {
      "width": 407, "height": 276,
      "data": {"values": [{}]},
      "layer": [
        {"data": {"name": "a_exp"}, "mark": {"type": "line", "color": "#000000", "strokeWidth": 1.8},
         "encoding": {
           "x": {"field": "x", "type": "quantitative", "scale": {"domain": [-4, 4], "range": [21, 372], "nice": false},
                 "axis": {"values": [-4,-3,-2,-1,0,1,2,3,4], "title": null, "grid": false, "domainColor": "#a6a6a6", "domainWidth": 2, "tickColor": "#6e6e6e", "tickWidth": 1, "tickSize": {"condition": {"test": "datum.value % 2 === 0", "value": 5}, "value": 3}, "labelExpr": "datum.value % 2 === 0 ? (datum.value < 0 ? '-' + abs(datum.value) : '' + datum.value) : ''", "labelFont": "DejaVu Sans", "labelFontWeight": "bold", "labelFontSize": 16.5, "labelColor": "#000000", "labelPadding": 3, "labelFlush": false, "labelOverlap": false, "labelBound": false}},
           "y": {"field": "y", "type": "quantitative", "scale": {"domain": [-0.1, 1.28], "nice": false}, "axis": null}}},
        {"data": {"name": "a_sim"}, "mark": {"type": "line", "color": "#ff0000", "strokeWidth": 1.5},
         "encoding": {"x": {"field": "x", "type": "quantitative"}, "y": {"field": "y", "type": "quantitative"}}},
        {"mark": {"type": "text", "style": "ttl", "dx": 1}, "encoding": {"x": {"datum": -4, "type": "quantitative"}, "y": {"datum": 1.08, "type": "quantitative"}, "text": {"value": "a) G147C-"}}},
        {"mark": {"type": "text", "style": "ttlb", "dx": 127.6}, "encoding": {"x": {"datum": -4, "type": "quantitative"}, "y": {"datum": 1.08, "type": "quantitative"}, "text": {"value": "C8"}}},
        {"mark": {"type": "text", "style": "ttl", "dx": 171.3}, "encoding": {"x": {"datum": -4, "type": "quantitative"}, "y": {"datum": 1.08, "type": "quantitative"}, "text": {"value": "low"}}},
        {"mark": {"type": "text", "style": "xm", "dx": -68}, "encoding": {"x": {"datum": 0, "type": "quantitative"}, "y": {"datum": -0.3, "type": "quantitative"}, "text": {"value": "ν"}}},
        {"mark": {"type": "text", "style": "xs", "dx": -56.92}, "encoding": {"x": {"datum": 0, "type": "quantitative"}, "y": {"datum": -0.3, "type": "quantitative"}, "text": {"value": "RF"}}},
        {"mark": {"type": "text", "style": "xm", "dx": -37.32}, "encoding": {"x": {"datum": 0, "type": "quantitative"}, "y": {"datum": -0.3, "type": "quantitative"}, "text": {"value": "-ν"}}},
        {"mark": {"type": "text", "style": "xs", "dx": -19.18}, "encoding": {"x": {"datum": 0, "type": "quantitative"}, "y": {"datum": -0.3, "type": "quantitative"}, "text": {"value": "H"}}},
        {"mark": {"type": "text", "style": "xm", "dx": -1.96}, "encoding": {"x": {"datum": 0, "type": "quantitative"}, "y": {"datum": -0.3, "type": "quantitative"}, "text": {"value": "/ MHz"}}}
      ]
    },
    {
      "width": 414, "height": 276,
      "data": {"values": [{}]},
      "layer": [
        {"data": {"name": "b_exp"}, "mark": {"type": "line", "color": "#000000", "strokeWidth": 2.4},
         "encoding": {
           "x": {"field": "x", "type": "quantitative", "scale": {"domain": [-4, 4], "range": [35.7, 388], "nice": false},
                 "axis": {"values": [-4,-3,-2,-1,0,1,2,3,4], "title": null, "grid": false, "domainColor": "#404040", "domainWidth": 1.5, "tickColor": "#404040", "tickWidth": 1.5, "tickSize": {"condition": {"test": "datum.value % 2 === 0", "value": 5}, "value": 3}, "labelExpr": "datum.value % 2 === 0 ? (datum.value < 0 ? '-' + abs(datum.value) : '' + datum.value) : ''", "labelFont": "DejaVu Sans", "labelFontSize": 17.5, "labelColor": "#000000", "labelPadding": 2, "labelFlush": false, "labelOverlap": false, "labelBound": false}},
           "y": {"field": "y", "type": "quantitative", "scale": {"domain": [-0.1, 1.28], "nice": false}, "axis": null}}},
        {"data": {"name": "b_sim"}, "mark": {"type": "line", "color": "#ff0000", "strokeWidth": 2},
         "encoding": {"x": {"field": "x", "type": "quantitative"}, "y": {"field": "y", "type": "quantitative"}}},
        {"mark": {"type": "text", "style": "ttl", "dx": -24.7}, "encoding": {"x": {"datum": -4, "type": "quantitative"}, "y": {"datum": 1.08, "type": "quantitative"}, "text": {"value": "b)"}}},
        {"mark": {"type": "text", "style": "rm", "dx": -66}, "encoding": {"x": {"datum": 0, "type": "quantitative"}, "y": {"datum": -0.3, "type": "quantitative"}, "text": {"value": "ν"}}},
        {"mark": {"type": "text", "style": "rs", "dx": -54.16}, "encoding": {"x": {"datum": 0, "type": "quantitative"}, "y": {"datum": -0.3, "type": "quantitative"}, "text": {"value": "RF"}}},
        {"mark": {"type": "text", "style": "rm", "dx": -33.84}, "encoding": {"x": {"datum": 0, "type": "quantitative"}, "y": {"datum": -0.3, "type": "quantitative"}, "text": {"value": "-ν"}}},
        {"mark": {"type": "text", "style": "rs", "dx": -14.78}, "encoding": {"x": {"datum": 0, "type": "quantitative"}, "y": {"datum": -0.3, "type": "quantitative"}, "text": {"value": "H"}}},
        {"mark": {"type": "text", "style": "rm", "dx": 3.61}, "encoding": {"x": {"datum": 0, "type": "quantitative"}, "y": {"datum": -0.3, "type": "quantitative"}, "text": {"value": "/ MHz"}}}
      ]
    },
    {
      "width": 393, "height": 276,
      "data": {"values": [{}]},
      "layer": [
        {"data": {"name": "c_exp"}, "mark": {"type": "line", "color": "#000000", "strokeWidth": 1.8},
         "encoding": {
           "x": {"field": "x", "type": "quantitative", "scale": {"domain": [-4, 4], "range": [26.3, 379], "nice": false},
                 "axis": {"values": [-4,-3,-2,-1,0,1,2,3,4], "title": null, "grid": false, "domainColor": "#a6a6a6", "domainWidth": 2, "tickColor": "#6e6e6e", "tickWidth": 1, "tickSize": {"condition": {"test": "datum.value % 2 === 0", "value": 5}, "value": 3}, "labelExpr": "datum.value % 2 === 0 ? (datum.value < 0 ? '-' + abs(datum.value) : '' + datum.value) : ''", "labelFont": "DejaVu Sans", "labelFontWeight": "bold", "labelFontSize": 16.5, "labelColor": "#000000", "labelPadding": 4, "labelFlush": false, "labelOverlap": false, "labelBound": false}},
           "y": {"field": "y", "type": "quantitative", "scale": {"domain": [-0.1, 1.28], "nice": false}, "axis": null}}},
        {"data": {"name": "c_sim"}, "mark": {"type": "line", "color": "#ff0000", "strokeWidth": 1.5},
         "encoding": {"x": {"field": "x", "type": "quantitative"}, "y": {"field": "y", "type": "quantitative"}}},
        {"mark": {"type": "text", "style": "ttl", "dx": 30.7}, "encoding": {"x": {"datum": -4, "type": "quantitative"}, "y": {"datum": 1.105, "type": "quantitative"}, "text": {"value": "c) G147C-"}}},
        {"mark": {"type": "text", "style": "ttlb", "dx": 155.7}, "encoding": {"x": {"datum": -4, "type": "quantitative"}, "y": {"datum": 1.105, "type": "quantitative"}, "text": {"value": "C7"}}},
        {"mark": {"type": "text", "style": "ttl", "dx": 199.4}, "encoding": {"x": {"datum": -4, "type": "quantitative"}, "y": {"datum": 1.105, "type": "quantitative"}, "text": {"value": "low"}}},
        {"mark": {"type": "text", "style": "xm", "dx": -68}, "encoding": {"x": {"datum": 0, "type": "quantitative"}, "y": {"datum": -0.32, "type": "quantitative"}, "text": {"value": "ν"}}},
        {"mark": {"type": "text", "style": "xs", "dx": -56.92}, "encoding": {"x": {"datum": 0, "type": "quantitative"}, "y": {"datum": -0.32, "type": "quantitative"}, "text": {"value": "RF"}}},
        {"mark": {"type": "text", "style": "xm", "dx": -37.32}, "encoding": {"x": {"datum": 0, "type": "quantitative"}, "y": {"datum": -0.32, "type": "quantitative"}, "text": {"value": "-ν"}}},
        {"mark": {"type": "text", "style": "xs", "dx": -19.18}, "encoding": {"x": {"datum": 0, "type": "quantitative"}, "y": {"datum": -0.32, "type": "quantitative"}, "text": {"value": "H"}}},
        {"mark": {"type": "text", "style": "xm", "dx": -1.96}, "encoding": {"x": {"datum": 0, "type": "quantitative"}, "y": {"datum": -0.32, "type": "quantitative"}, "text": {"value": "/ MHz"}}}
      ]
    },
    {
      "width": 407, "height": 388,
      "data": {"values": [{}]},
      "layer": [
        {"data": {"name": "d_exp"}, "mark": {"type": "line", "color": "#000000", "strokeWidth": 1.8},
         "encoding": {
           "x": {"field": "x", "type": "quantitative", "scale": {"domain": [-4, 4], "range": [21, 372], "nice": false},
                 "axis": {"values": [-4,-3,-2,-1,0,1,2,3,4], "title": null, "grid": false, "domainColor": "#a6a6a6", "domainWidth": 2, "tickColor": "#6e6e6e", "tickWidth": 1, "tickSize": {"condition": {"test": "datum.value % 2 === 0", "value": 5}, "value": 3}, "labelExpr": "datum.value % 2 === 0 ? (datum.value < 0 ? '-' + abs(datum.value) : '' + datum.value) : ''", "labelFont": "DejaVu Sans", "labelFontWeight": "bold", "labelFontSize": 16.5, "labelColor": "#000000", "labelPadding": 4, "labelFlush": false, "labelOverlap": false, "labelBound": false}},
           "y": {"field": "y", "type": "quantitative", "scale": {"domain": [-0.105, 1.835], "nice": false}, "axis": null}}},
        {"data": {"name": "d_sim"}, "mark": {"type": "line", "color": "#ff0000", "strokeWidth": 1.5},
         "encoding": {"x": {"field": "x", "type": "quantitative"}, "y": {"field": "y", "type": "quantitative"}}},
        {"mark": {"type": "text", "style": "ttl", "dx": 1}, "encoding": {"x": {"datum": -4, "type": "quantitative"}, "y": {"datum": 1.275, "type": "quantitative"}, "text": {"value": "d) S114C-"}}},
        {"mark": {"type": "text", "style": "ttlb", "dx": 124.6}, "encoding": {"x": {"datum": -4, "type": "quantitative"}, "y": {"datum": 1.275, "type": "quantitative"}, "text": {"value": "C8"}}},
        {"mark": {"type": "text", "style": "ttl", "dx": 168.3}, "encoding": {"x": {"datum": -4, "type": "quantitative"}, "y": {"datum": 1.275, "type": "quantitative"}, "text": {"value": "low"}}},
        {"mark": {"type": "text", "style": "xm", "dx": -68}, "encoding": {"x": {"datum": 0, "type": "quantitative"}, "y": {"datum": -0.33, "type": "quantitative"}, "text": {"value": "ν"}}},
        {"mark": {"type": "text", "style": "xs", "dx": -56.92}, "encoding": {"x": {"datum": 0, "type": "quantitative"}, "y": {"datum": -0.33, "type": "quantitative"}, "text": {"value": "RF"}}},
        {"mark": {"type": "text", "style": "xm", "dx": -37.32}, "encoding": {"x": {"datum": 0, "type": "quantitative"}, "y": {"datum": -0.33, "type": "quantitative"}, "text": {"value": "-ν"}}},
        {"mark": {"type": "text", "style": "xs", "dx": -19.18}, "encoding": {"x": {"datum": 0, "type": "quantitative"}, "y": {"datum": -0.33, "type": "quantitative"}, "text": {"value": "H"}}},
        {"mark": {"type": "text", "style": "xm", "dx": -1.96}, "encoding": {"x": {"datum": 0, "type": "quantitative"}, "y": {"datum": -0.33, "type": "quantitative"}, "text": {"value": "/ MHz"}}}
      ]
    },
    {
      "width": 414, "height": 388,
      "data": {"values": [{}]},
      "layer": [
        {"data": {"name": "e_exp"}, "mark": {"type": "line", "color": "#000000", "strokeWidth": 2.4},
         "encoding": {
           "x": {"field": "x", "type": "quantitative", "scale": {"domain": [-4, 4], "range": [35.7, 388], "nice": false},
                 "axis": {"values": [-4,-3,-2,-1,0,1,2,3,4], "title": null, "grid": false, "domainColor": "#404040", "domainWidth": 1.5, "tickColor": "#404040", "tickWidth": 1.5, "tickSize": {"condition": {"test": "datum.value % 2 === 0", "value": 5}, "value": 3}, "labelExpr": "datum.value % 2 === 0 ? (datum.value < 0 ? '-' + abs(datum.value) : '' + datum.value) : ''", "labelFont": "DejaVu Sans", "labelFontSize": 17.5, "labelColor": "#000000", "labelPadding": 4, "labelFlush": false, "labelOverlap": false, "labelBound": false}},
           "y": {"field": "y", "type": "quantitative", "scale": {"domain": [-0.105, 1.835], "nice": false}, "axis": null}}},
        {"data": {"name": "e_sim"}, "mark": {"type": "line", "color": "#ff0000", "strokeWidth": 2},
         "encoding": {"x": {"field": "x", "type": "quantitative"}, "y": {"field": "y", "type": "quantitative"}}},
        {"mark": {"type": "text", "style": "ttl", "dx": -24.7}, "encoding": {"x": {"datum": -4, "type": "quantitative"}, "y": {"datum": 1.265, "type": "quantitative"}, "text": {"value": "e)"}}},
        {"mark": {"type": "text", "style": "rm", "dx": -72}, "encoding": {"x": {"datum": 0, "type": "quantitative"}, "y": {"datum": -0.33, "type": "quantitative"}, "text": {"value": "ν"}}},
        {"mark": {"type": "text", "style": "rs", "dx": -60.16}, "encoding": {"x": {"datum": 0, "type": "quantitative"}, "y": {"datum": -0.33, "type": "quantitative"}, "text": {"value": "RF"}}},
        {"mark": {"type": "text", "style": "rm", "dx": -39.84}, "encoding": {"x": {"datum": 0, "type": "quantitative"}, "y": {"datum": -0.33, "type": "quantitative"}, "text": {"value": "-ν"}}},
        {"mark": {"type": "text", "style": "rs", "dx": -20.78}, "encoding": {"x": {"datum": 0, "type": "quantitative"}, "y": {"datum": -0.33, "type": "quantitative"}, "text": {"value": "H"}}},
        {"mark": {"type": "text", "style": "rm", "dx": -2.39}, "encoding": {"x": {"datum": 0, "type": "quantitative"}, "y": {"datum": -0.33, "type": "quantitative"}, "text": {"value": "/ MHz"}}}
      ]
    },
    {
      "width": 393, "height": 388,
      "data": {"values": [{}]},
      "layer": [
        {"data": {"name": "f_exp"}, "mark": {"type": "line", "color": "#000000", "strokeWidth": 1.8},
         "encoding": {
           "x": {"field": "x", "type": "quantitative", "scale": {"domain": [-4, 4], "range": [26.3, 379], "nice": false},
                 "axis": {"values": [-4,-3,-2,-1,0,1,2,3,4], "title": null, "grid": false, "domainColor": "#a6a6a6", "domainWidth": 2, "tickColor": "#6e6e6e", "tickWidth": 1, "tickSize": {"condition": {"test": "datum.value % 2 === 0", "value": 5}, "value": 3}, "labelExpr": "datum.value % 2 === 0 ? (datum.value < 0 ? '-' + abs(datum.value) : '' + datum.value) : ''", "labelFont": "DejaVu Sans", "labelFontWeight": "bold", "labelFontSize": 16.5, "labelColor": "#000000", "labelPadding": 4, "labelFlush": false, "labelOverlap": false, "labelBound": false}},
           "y": {"field": "y", "type": "quantitative", "scale": {"domain": [-0.105, 1.835], "nice": false}, "axis": null}}},
        {"data": {"name": "f_sim"}, "mark": {"type": "line", "color": "#ff0000", "strokeWidth": 1.5},
         "encoding": {"x": {"field": "x", "type": "quantitative"}, "y": {"field": "y", "type": "quantitative"}}},
        {"mark": {"type": "text", "style": "ttl", "dx": 30.7}, "encoding": {"x": {"datum": -4, "type": "quantitative"}, "y": {"datum": 1.275, "type": "quantitative"}, "text": {"value": "f) S114C-"}}},
        {"mark": {"type": "text", "style": "ttlb", "dx": 147.25}, "encoding": {"x": {"datum": -4, "type": "quantitative"}, "y": {"datum": 1.275, "type": "quantitative"}, "text": {"value": "C7"}}},
        {"mark": {"type": "text", "style": "ttl", "dx": 190.95}, "encoding": {"x": {"datum": -4, "type": "quantitative"}, "y": {"datum": 1.275, "type": "quantitative"}, "text": {"value": "low"}}},
        {"mark": {"type": "text", "style": "xm", "dx": -68}, "encoding": {"x": {"datum": 0, "type": "quantitative"}, "y": {"datum": -0.33, "type": "quantitative"}, "text": {"value": "ν"}}},
        {"mark": {"type": "text", "style": "xs", "dx": -56.92}, "encoding": {"x": {"datum": 0, "type": "quantitative"}, "y": {"datum": -0.33, "type": "quantitative"}, "text": {"value": "RF"}}},
        {"mark": {"type": "text", "style": "xm", "dx": -37.32}, "encoding": {"x": {"datum": 0, "type": "quantitative"}, "y": {"datum": -0.33, "type": "quantitative"}, "text": {"value": "-ν"}}},
        {"mark": {"type": "text", "style": "xs", "dx": -19.18}, "encoding": {"x": {"datum": 0, "type": "quantitative"}, "y": {"datum": -0.33, "type": "quantitative"}, "text": {"value": "H"}}},
        {"mark": {"type": "text", "style": "xm", "dx": -1.96}, "encoding": {"x": {"datum": 0, "type": "quantitative"}, "y": {"datum": -0.33, "type": "quantitative"}, "text": {"value": "/ MHz"}}}
      ]
    },
    {
      "width": 407, "height": 389,
      "data": {"values": [{}]},
      "layer": [
        {"data": {"name": "g_exp"}, "mark": {"type": "line", "color": "#000000", "strokeWidth": 1.8},
         "encoding": {
           "x": {"field": "x", "type": "quantitative", "scale": {"domain": [-4, 4], "range": [21, 372], "nice": false},
                 "axis": {"values": [-4,-3,-2,-1,0,1,2,3,4], "title": null, "grid": false, "domainColor": "#a6a6a6", "domainWidth": 2, "tickColor": "#6e6e6e", "tickWidth": 1, "tickSize": {"condition": {"test": "datum.value % 2 === 0", "value": 5}, "value": 3}, "labelExpr": "datum.value % 2 === 0 ? (datum.value < 0 ? '-' + abs(datum.value) : '' + datum.value) : ''", "labelFont": "DejaVu Sans", "labelFontWeight": "bold", "labelFontSize": 16.5, "labelColor": "#000000", "labelPadding": 3, "labelFlush": false, "labelOverlap": false, "labelBound": false}},
           "y": {"field": "y", "type": "quantitative", "scale": {"domain": [-0.105, 1.84], "nice": false}, "axis": null}}},
        {"data": {"name": "g_sim"}, "mark": {"type": "line", "color": "#ff0000", "strokeWidth": 1.6},
         "encoding": {"x": {"field": "x", "type": "quantitative"}, "y": {"field": "y", "type": "quantitative"}}},
        {"mark": {"type": "text", "style": "ttl", "dx": 1}, "encoding": {"x": {"datum": -4, "type": "quantitative"}, "y": {"datum": 1.16, "type": "quantitative"}, "text": {"value": "g) S114C-"}}},
        {"mark": {"type": "text", "style": "ttlb", "dx": 124.6}, "encoding": {"x": {"datum": -4, "type": "quantitative"}, "y": {"datum": 1.16, "type": "quantitative"}, "text": {"value": "C7"}}},
        {"mark": {"type": "text", "style": "ttl", "dx": 168.3}, "encoding": {"x": {"datum": -4, "type": "quantitative"}, "y": {"datum": 1.16, "type": "quantitative"}, "text": {"value": "high"}}},
        {"mark": {"type": "text", "style": "xm", "dx": -71}, "encoding": {"x": {"datum": 0, "type": "quantitative"}, "y": {"datum": -0.322, "type": "quantitative"}, "text": {"value": "ν"}}},
        {"mark": {"type": "text", "style": "xs", "dx": -59.92}, "encoding": {"x": {"datum": 0, "type": "quantitative"}, "y": {"datum": -0.322, "type": "quantitative"}, "text": {"value": "RF"}}},
        {"mark": {"type": "text", "style": "xm", "dx": -40.32}, "encoding": {"x": {"datum": 0, "type": "quantitative"}, "y": {"datum": -0.322, "type": "quantitative"}, "text": {"value": "-ν"}}},
        {"mark": {"type": "text", "style": "xs", "dx": -22.18}, "encoding": {"x": {"datum": 0, "type": "quantitative"}, "y": {"datum": -0.322, "type": "quantitative"}, "text": {"value": "H"}}},
        {"mark": {"type": "text", "style": "xm", "dx": -4.96}, "encoding": {"x": {"datum": 0, "type": "quantitative"}, "y": {"datum": -0.322, "type": "quantitative"}, "text": {"value": "/ MHz"}}}
      ]
    },
    {
      "width": 414, "height": 389,
      "data": {"values": [{}]},
      "layer": [
        {"data": {"name": "h_exp"}, "mark": {"type": "line", "color": "#000000", "strokeWidth": 2.1},
         "encoding": {
           "x": {"field": "x", "type": "quantitative", "scale": {"domain": [-4, 4], "range": [35.7, 388], "nice": false},
                 "axis": {"values": [-4,-3,-2,-1,0,1,2,3,4], "title": null, "grid": false, "domainColor": "#404040", "domainWidth": 1.5, "tickColor": "#404040", "tickWidth": 1.5, "tickSize": {"condition": {"test": "datum.value % 2 === 0", "value": 5}, "value": 3}, "labelExpr": "datum.value % 2 === 0 ? (datum.value < 0 ? '-' + abs(datum.value) : '' + datum.value) : ''", "labelFont": "DejaVu Sans", "labelFontSize": 17.5, "labelColor": "#000000", "labelPadding": 1, "labelFlush": false, "labelOverlap": false, "labelBound": false}},
           "y": {"field": "y", "type": "quantitative", "scale": {"domain": [-0.105, 1.84], "nice": false}, "axis": null}}},
        {"data": {"name": "h_sim"}, "mark": {"type": "line", "color": "#ff0000", "strokeWidth": 1.9},
         "encoding": {"x": {"field": "x", "type": "quantitative"}, "y": {"field": "y", "type": "quantitative"}}},
        {"mark": {"type": "text", "style": "ttl", "dx": -24.7}, "encoding": {"x": {"datum": -4, "type": "quantitative"}, "y": {"datum": 1.175, "type": "quantitative"}, "text": {"value": "h)"}}},
        {"mark": {"type": "text", "style": "rm", "dx": -66}, "encoding": {"x": {"datum": 0, "type": "quantitative"}, "y": {"datum": -0.31, "type": "quantitative"}, "text": {"value": "ν"}}},
        {"mark": {"type": "text", "style": "rs", "dx": -54.16}, "encoding": {"x": {"datum": 0, "type": "quantitative"}, "y": {"datum": -0.31, "type": "quantitative"}, "text": {"value": "RF"}}},
        {"mark": {"type": "text", "style": "rm", "dx": -33.84}, "encoding": {"x": {"datum": 0, "type": "quantitative"}, "y": {"datum": -0.31, "type": "quantitative"}, "text": {"value": "-ν"}}},
        {"mark": {"type": "text", "style": "rs", "dx": -14.78}, "encoding": {"x": {"datum": 0, "type": "quantitative"}, "y": {"datum": -0.31, "type": "quantitative"}, "text": {"value": "H"}}},
        {"mark": {"type": "text", "style": "rm", "dx": 3.61}, "encoding": {"x": {"datum": 0, "type": "quantitative"}, "y": {"datum": -0.31, "type": "quantitative"}, "text": {"value": "/ MHz"}}}
      ]
    },
    {
      "width": 393, "height": 389,
      "data": {"values": [{}]},
      "layer": [
        {"data": {"name": "i_exp"}, "mark": {"type": "line", "color": "#000000", "strokeWidth": 1.8},
         "encoding": {
           "x": {"field": "x", "type": "quantitative", "scale": {"domain": [-4, 4], "range": [26.3, 379], "nice": false},
                 "axis": {"values": [-4,-3,-2,-1,0,1,2,3,4], "title": null, "grid": false, "domainColor": "#a6a6a6", "domainWidth": 2, "tickColor": "#6e6e6e", "tickWidth": 1, "tickSize": {"condition": {"test": "datum.value % 2 === 0", "value": 5}, "value": 3}, "labelExpr": "datum.value % 2 === 0 ? (datum.value < 0 ? '-' + abs(datum.value) : '' + datum.value) : ''", "labelFont": "DejaVu Sans", "labelFontWeight": "bold", "labelFontSize": 16.5, "labelColor": "#000000", "labelPadding": 3, "labelFlush": false, "labelOverlap": false, "labelBound": false}},
           "y": {"field": "y", "type": "quantitative", "scale": {"domain": [-0.105, 1.84], "nice": false}, "axis": null}}},
        {"data": {"name": "i_sim"}, "mark": {"type": "line", "color": "#ff0000", "strokeWidth": 1.6},
         "encoding": {"x": {"field": "x", "type": "quantitative"}, "y": {"field": "y", "type": "quantitative"}}},
        {"mark": {"type": "text", "style": "ttl", "dx": 30.7}, "encoding": {"x": {"datum": -4, "type": "quantitative"}, "y": {"datum": 1.16, "type": "quantitative"}, "text": {"value": "i)"}}},
        {"mark": {"type": "text", "style": "ttlb", "dx": 55.35}, "encoding": {"x": {"datum": -4, "type": "quantitative"}, "y": {"datum": 1.16, "type": "quantitative"}, "text": {"value": "C7"}}},
        {"mark": {"type": "text", "style": "xm", "dx": -68}, "encoding": {"x": {"datum": 0, "type": "quantitative"}, "y": {"datum": -0.322, "type": "quantitative"}, "text": {"value": "ν"}}},
        {"mark": {"type": "text", "style": "xs", "dx": -56.92}, "encoding": {"x": {"datum": 0, "type": "quantitative"}, "y": {"datum": -0.322, "type": "quantitative"}, "text": {"value": "RF"}}},
        {"mark": {"type": "text", "style": "xm", "dx": -37.32}, "encoding": {"x": {"datum": 0, "type": "quantitative"}, "y": {"datum": -0.322, "type": "quantitative"}, "text": {"value": "-ν"}}},
        {"mark": {"type": "text", "style": "xs", "dx": -19.18}, "encoding": {"x": {"datum": 0, "type": "quantitative"}, "y": {"datum": -0.322, "type": "quantitative"}, "text": {"value": "H"}}},
        {"mark": {"type": "text", "style": "xm", "dx": -1.96}, "encoding": {"x": {"datum": 0, "type": "quantitative"}, "y": {"datum": -0.322, "type": "quantitative"}, "text": {"value": "/ MHz"}}}
      ]
    }
  ]
}
